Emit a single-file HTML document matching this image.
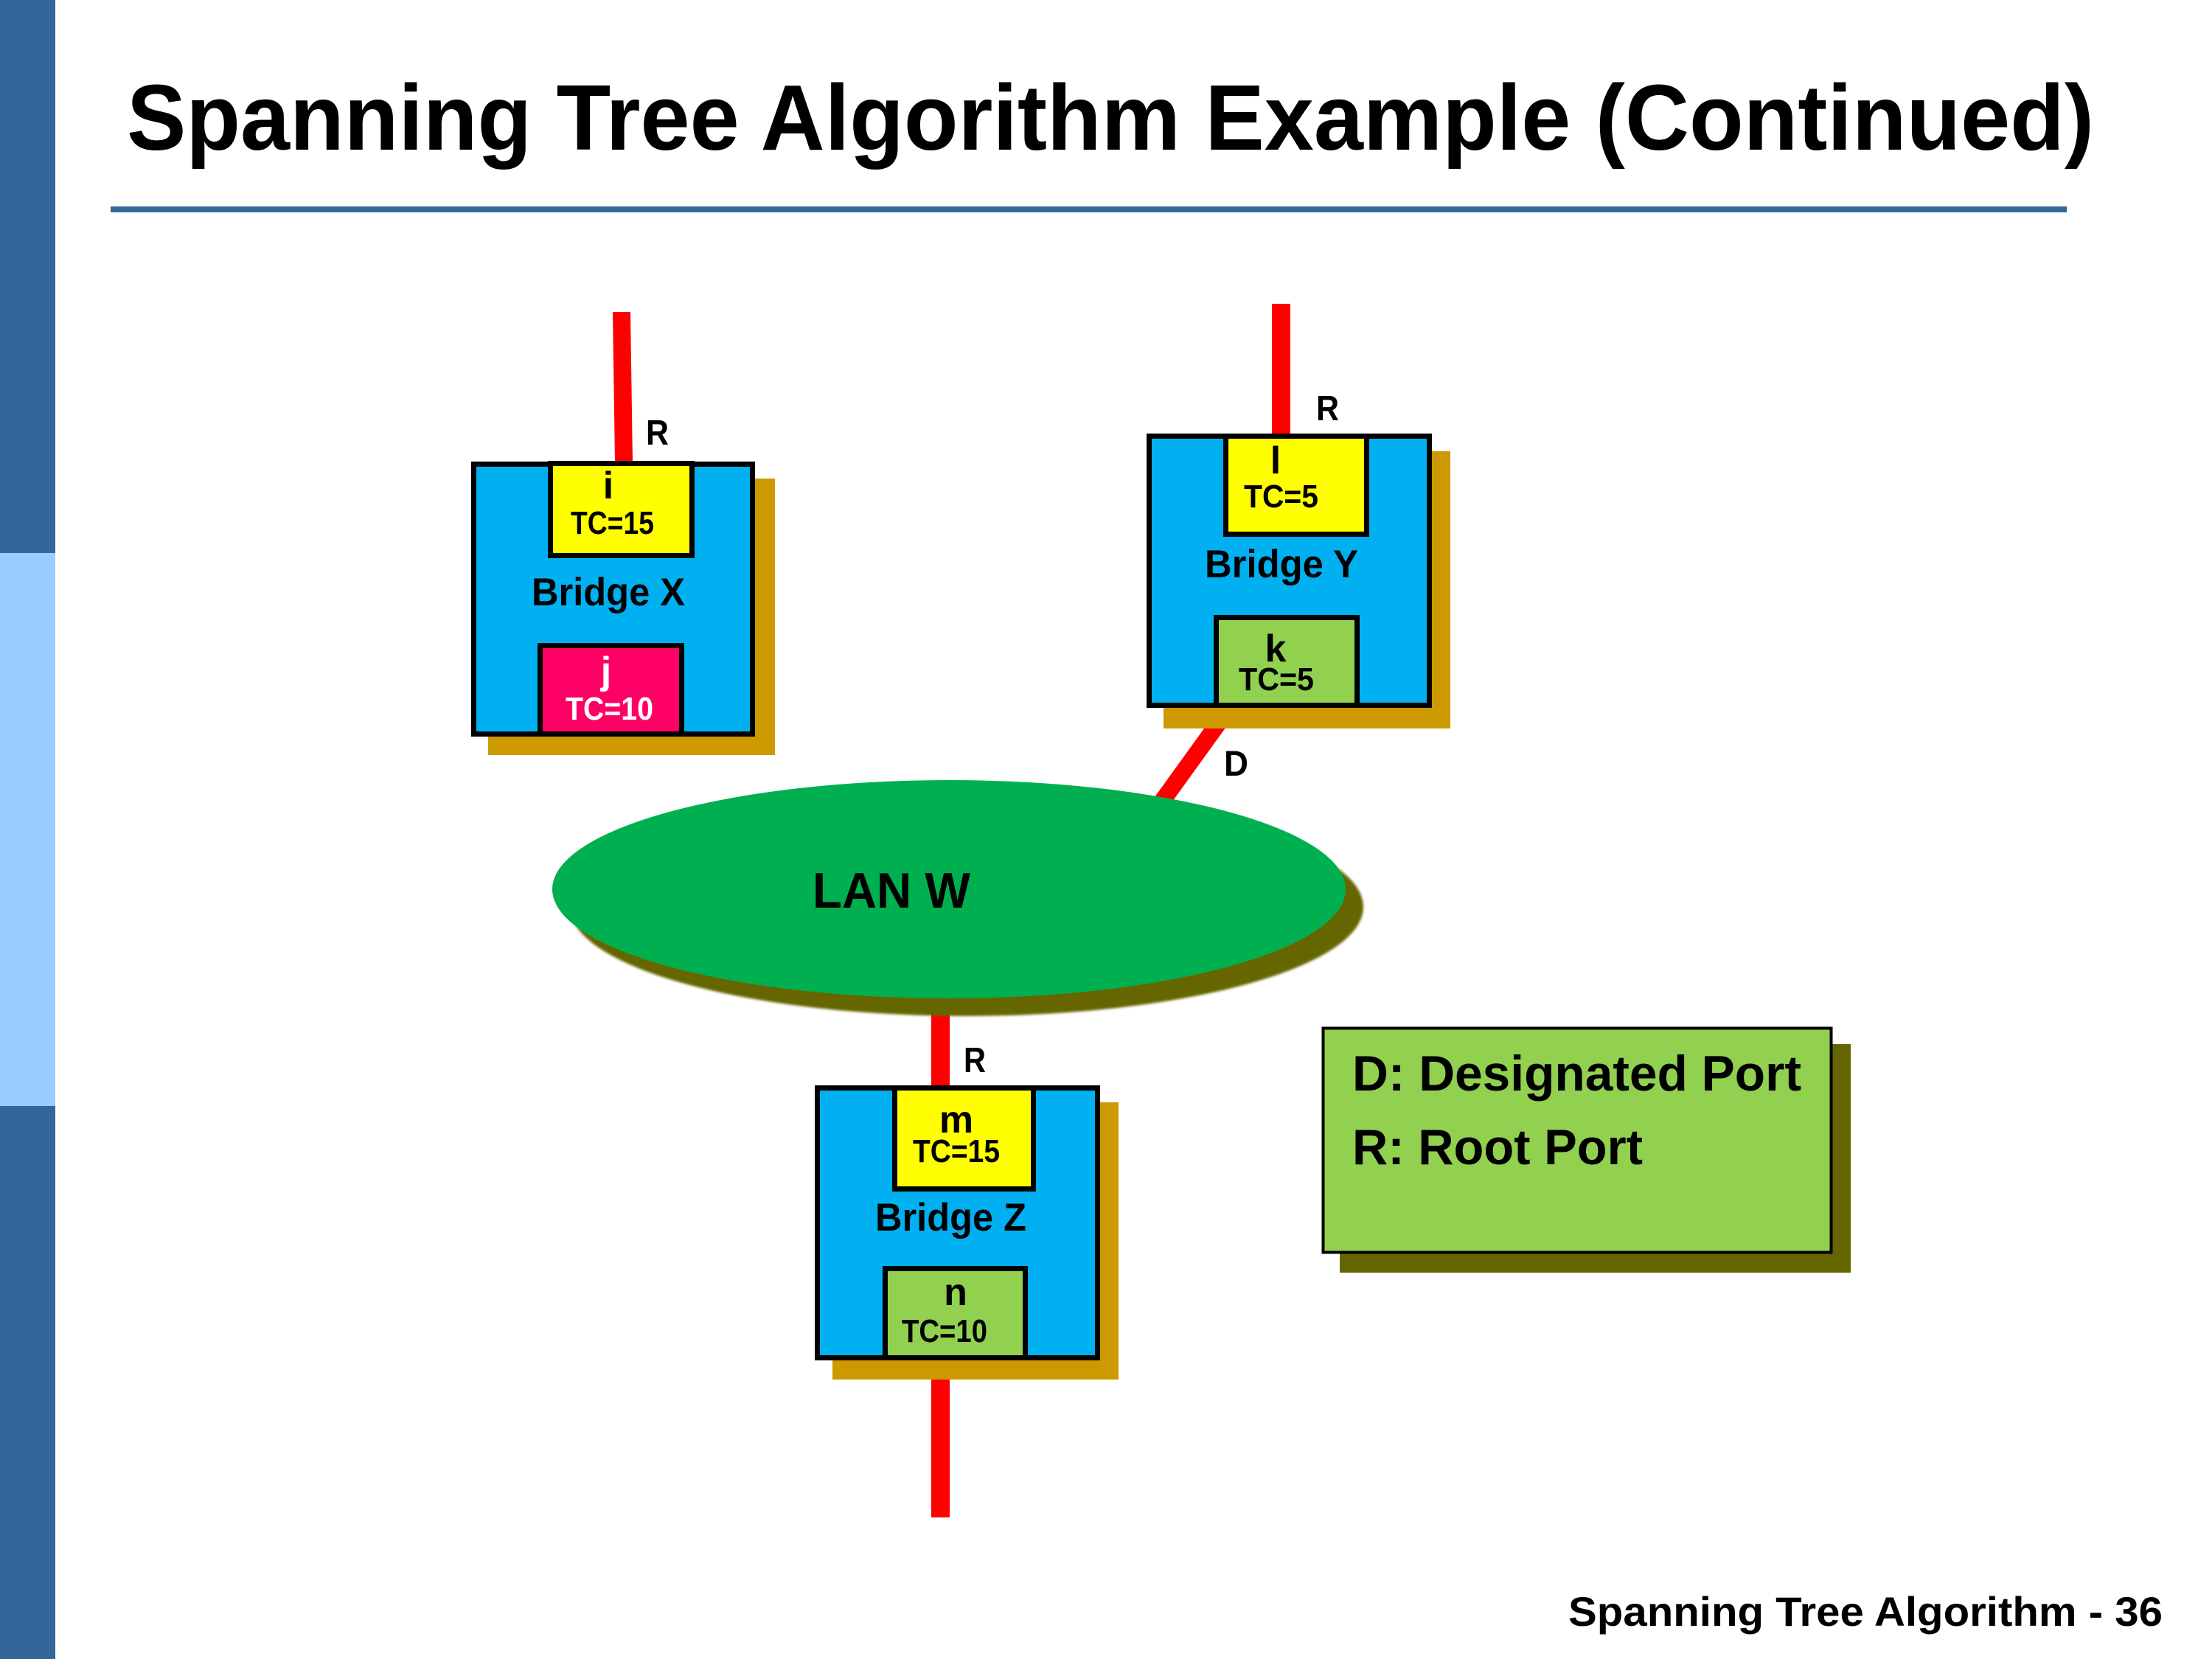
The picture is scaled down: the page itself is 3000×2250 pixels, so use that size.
<!DOCTYPE html>
<html>
<head>
<meta charset="utf-8">
<style>
  html,body{margin:0;padding:0;background:#fff;}
  body{width:3000px;height:2250px;overflow:hidden;}
  svg{display:block;}
  text{font-family:"Liberation Sans", Arial, sans-serif;font-weight:bold;}
</style>
</head>
<body>
<svg width="3000" height="2250" viewBox="0 0 3000 2250" xmlns="http://www.w3.org/2000/svg">
  <defs>
    <filter id="soft" x="-5%" y="-5%" width="110%" height="110%">
      <feGaussianBlur stdDeviation="1.5"/>
    </filter>
  </defs>
  <rect x="0" y="0" width="3000" height="2250" fill="#ffffff"/>

  <!-- left bar -->
  <rect x="0" y="0" width="75" height="750" fill="#336699"/>
  <rect x="0" y="750" width="75" height="750" fill="#99ccff"/>
  <rect x="0" y="1500" width="75" height="750" fill="#336699"/>

  <!-- title -->
  <text x="172" y="203" font-size="126" fill="#000" textLength="2668" lengthAdjust="spacingAndGlyphs">Spanning Tree Algorithm Example (Continued)</text>
  <rect x="150" y="280" width="2653" height="8" fill="#336699"/>

  <!-- red connector lines -->
  <polygon points="831,423 855,423 858,627 834,627" fill="#ff0000"/>
  <rect x="1725" y="412" width="25" height="180" fill="#ff0000"/>
  <line x1="1666" y1="962" x2="1565" y2="1102" stroke="#ff0000" stroke-width="23"/>
  <rect x="1263" y="1360" width="25" height="115" fill="#ff0000"/>
  <rect x="1263" y="1840" width="25" height="218" fill="#ff0000"/>

  <!-- LAN W ellipse -->
  <ellipse cx="1311" cy="1230" rx="538" ry="148" fill="#666600" filter="url(#soft)"/>
  <ellipse cx="1287" cy="1206" rx="538" ry="148" fill="#00b050"/>
  <text x="1102" y="1231" font-size="68" fill="#000" textLength="214" lengthAdjust="spacingAndGlyphs">LAN W</text>

  <!-- Bridge X -->
  <rect x="662" y="649" width="389" height="375" fill="#cc9900"/>
  <rect x="642.5" y="629.5" width="378" height="366" fill="#00b0f0" stroke="#000" stroke-width="7"/>
  <rect x="746.5" y="628.5" width="192" height="125" fill="#ffff00" stroke="#000" stroke-width="7"/>
  <rect x="732.5" y="875.5" width="192" height="120" fill="#ff0066" stroke="#000" stroke-width="7"/>
  <text x="825" y="676" font-size="52" fill="#000" text-anchor="middle">i</text>
  <text x="774" y="724" font-size="44" fill="#000" textLength="113" lengthAdjust="spacingAndGlyphs">TC=15</text>
  <text x="721" y="821" font-size="53" fill="#000" textLength="208" lengthAdjust="spacingAndGlyphs">Bridge X</text>
  <text x="822" y="927" font-size="52" fill="#fff" text-anchor="middle">j</text>
  <text x="767" y="976" font-size="44" fill="#fff" textLength="119" lengthAdjust="spacingAndGlyphs">TC=10</text>
  <text x="876" y="603" font-size="48" fill="#000" textLength="31" lengthAdjust="spacingAndGlyphs">R</text>

  <!-- Bridge Y -->
  <rect x="1578" y="612" width="389" height="376" fill="#cc9900"/>
  <rect x="1558.5" y="591.5" width="380" height="365" fill="#00b0f0" stroke="#000" stroke-width="7"/>
  <rect x="1662.5" y="591.5" width="191" height="133" fill="#ffff00" stroke="#000" stroke-width="7"/>
  <rect x="1649.5" y="837.5" width="191" height="119" fill="#92d050" stroke="#000" stroke-width="7"/>
  <text x="1730" y="642" font-size="52" fill="#000" text-anchor="middle">l</text>
  <text x="1687" y="688" font-size="44" fill="#000" textLength="101" lengthAdjust="spacingAndGlyphs">TC=5</text>
  <text x="1634" y="783" font-size="53" fill="#000" textLength="208" lengthAdjust="spacingAndGlyphs">Bridge Y</text>
  <text x="1730" y="897" font-size="52" fill="#000" text-anchor="middle">k</text>
  <text x="1680" y="936" font-size="44" fill="#000" textLength="102" lengthAdjust="spacingAndGlyphs">TC=5</text>
  <text x="1785" y="570" font-size="48" fill="#000" textLength="31" lengthAdjust="spacingAndGlyphs">R</text>
  <text x="1660" y="1052" font-size="48" fill="#000" textLength="33" lengthAdjust="spacingAndGlyphs">D</text>

  <!-- Bridge Z -->
  <rect x="1129" y="1495" width="388" height="376" fill="#cc9900"/>
  <rect x="1108.5" y="1475.5" width="380" height="366" fill="#00b0f0" stroke="#000" stroke-width="7"/>
  <rect x="1213.5" y="1475.5" width="188" height="137" fill="#ffff00" stroke="#000" stroke-width="7"/>
  <rect x="1200.5" y="1720.5" width="190" height="121" fill="#92d050" stroke="#000" stroke-width="7"/>
  <text x="1297" y="1536" font-size="52" fill="#000" text-anchor="middle">m</text>
  <text x="1238" y="1576" font-size="44" fill="#000" textLength="118" lengthAdjust="spacingAndGlyphs">TC=15</text>
  <text x="1187" y="1669" font-size="53" fill="#000" textLength="205" lengthAdjust="spacingAndGlyphs">Bridge Z</text>
  <text x="1296" y="1770" font-size="52" fill="#000" text-anchor="middle">n</text>
  <text x="1223" y="1820" font-size="44" fill="#000" textLength="116" lengthAdjust="spacingAndGlyphs">TC=10</text>
  <text x="1307" y="1454" font-size="48" fill="#000" textLength="30" lengthAdjust="spacingAndGlyphs">R</text>

  <!-- Legend -->
  <rect x="1817" y="1416" width="693" height="310" fill="#666600"/>
  <rect x="1794.5" y="1394.5" width="689" height="304" fill="#92d050" stroke="#000" stroke-width="4"/>
  <text x="1834" y="1479" font-size="68" fill="#000" textLength="609" lengthAdjust="spacingAndGlyphs">D: Designated Port</text>
  <text x="1834" y="1579" font-size="68" fill="#000" textLength="394" lengthAdjust="spacingAndGlyphs">R: Root Port</text>

  <!-- footer -->
  <text x="2127" y="2205" font-size="56" fill="#000" textLength="806" lengthAdjust="spacingAndGlyphs">Spanning Tree Algorithm - 36</text>
</svg>
</body>
</html>
